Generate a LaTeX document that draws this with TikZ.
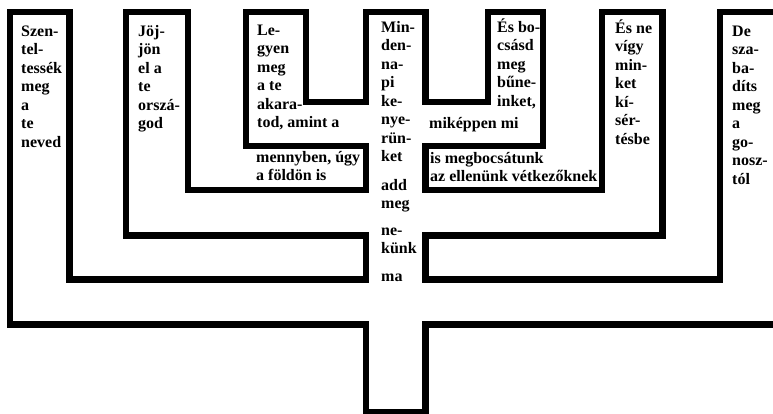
\documentclass[tikz,border=0pt]{standalone}
\usepackage{fontspec}
\setmainfont{Liberation Serif}
\begin{document}
\begin{tikzpicture}[x=1pt, y=-1pt,
  every node/.style={font=\fontsize{16}{18.5}\selectfont\bfseries, inner sep=0pt, anchor=base west, align=left},
  outline/.style={line width=6.5pt, black}]
  \useasboundingbox (0,0) rectangle (773,413);
  \clip (0,0) rectangle (773,413);
  % lamp outline, from the right edge round to the right edge
  \draw[outline] (780,12) -- (720,12) -- (720,279.5) -- (425.5,279.5) -- (425.5,235.5)
    -- (662.5,235.5) -- (662.5,12) -- (602,12) -- (602,190) -- (425.5,190) -- (425.5,146)
    -- (543,146) -- (543,12) -- (488,12) -- (488,102) -- (425.5,102) -- (425.5,12)
    -- (366,12) -- (366,102) -- (306,102) -- (306,12) -- (246,12) -- (246,146)
    -- (366,146) -- (366,190) -- (188,190) -- (188,12) -- (126,12) -- (126,235.5)
    -- (366,235.5) -- (366,279.5) -- (69.5,279.5) -- (69.5,12) -- (10,12) -- (10,324.5)
    -- (366,324.5) -- (366,412) -- (425.5,412) -- (425.5,324.5) -- (780,324.5);
  % arms, left to right (placed by the baseline of the last line)
  \node (szent) at (21,147) {Szen-\\tel-\\tessék\\meg\\a\\te\\neved};
  \node (jojjon) at (138,128.5) {Jöj-\\jön\\el a\\te\\orszá-\\god};
  \node (legyen) at (257,127.5) {Le-\\gyen\\meg\\a te\\akara-\\tod, amint a};
  \node (menny) at (256,180.5) {mennyben, úgy\\a földön is};
  \node (kenyer) at (381,161.5) {Min-\\den-\\na-\\pi\\ke-\\nye-\\rün-\\ket};
  \node (add) at (381,208.5) {add\\meg};
  \node (nekunk) at (381,253.5) {ne-\\künk};
  \node (ma) at (381,281) {ma};
  \node (bocsasd) at (497,106) {És bo-\\csásd\\meg\\bűne-\\inket,};
  \node (mikeppen) at (429,128) {miképpen mi};
  \node (megbocs) at (430,181.5) {is megbocsátunk\\az ellenünk vétkezőknek};
  \node (kiserts) at (615,144) {És ne\\vígy\\min-\\ket\\kí-\\sér-\\tésbe};
  \node (gonosz) at (732,184) {De\\sza-\\ba-\\díts\\meg\\a\\go-\\nosz-\\tól};
\end{tikzpicture}
\end{document}
